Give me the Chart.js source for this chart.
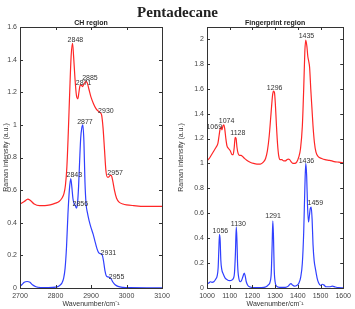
<!DOCTYPE html>
<html>
<head>
<meta charset="utf-8">
<script src="https://cdn.jsdelivr.net/npm/chart.js@4.4.1/dist/chart.umd.min.js"></script>
<style>
  html, body { margin: 0; padding: 0; background: #fff; }
  #wrap { position: relative; width: 355px; height: 309px; overflow: hidden; }
  #title { position: absolute; left: 0; top: 0; width: 355px; text-align: center;
           font: bold 15px "Liberation Serif", "DejaVu Serif", serif; line-height: 24px; color: #222; z-index: 2; }
  .box { position: absolute; top: 0; height: 309px; }
  #b1 { left: 0; width: 175px; }
  #b2 { left: 175px; width: 180px; }
</style>
</head>
<body>
<div id="wrap">
  <div id="title">Pentadecane</div>
  <div class="box" id="b1"><canvas id="c1"></canvas></div>
  <div class="box" id="b2"><canvas id="c2"></canvas></div>
</div>
<script>
// ---------- CH region data ----------
const chRedX = [2700,2712,2722,2730,2740,2755,2770,2785,2800,2810,2818,2824,2828,2832,2836,2840,2844,2848,2851,2855,2859,2863,2866,2869,2872,2876,2880,2885,2889,2894,2900,2907,2914,2920,2926,2930,2934,2938,2942,2946,2950,2954,2957,2961,2966,2972,2980,2990,3000,3020,3050,3100];
const chRedY = [0.515,0.53,0.545,0.535,0.515,0.505,0.505,0.51,0.52,0.53,0.55,0.58,0.63,0.74,0.95,1.2,1.42,1.5,1.42,1.28,1.18,1.16,1.2,1.24,1.245,1.235,1.25,1.265,1.26,1.22,1.17,1.13,1.1,1.085,1.075,1.06,0.98,0.85,0.72,0.68,0.68,0.69,0.69,0.66,0.6,0.55,0.525,0.515,0.51,0.505,0.5,0.5];
const chBlueX = [2700,2705,2712,2720,2728,2735,2745,2760,2780,2800,2810,2818,2823,2827,2831,2835,2839,2843,2846,2849,2852,2856,2859,2862,2865,2868,2871,2874,2877,2880,2883,2886,2890,2895,2900,2906,2912,2917,2922,2927,2931,2935,2939,2943,2948,2953,2957,2962,2968,2976,2990,3010,3100];
const chBlueY = [0.01,0.02,0.035,0.04,0.035,0.02,0.008,0.003,0.002,0.005,0.012,0.03,0.06,0.12,0.25,0.45,0.6,0.67,0.62,0.55,0.52,0.505,0.49,0.52,0.62,0.78,0.92,0.98,1.0,0.9,0.65,0.52,0.46,0.41,0.37,0.33,0.28,0.24,0.215,0.21,0.205,0.17,0.11,0.075,0.068,0.065,0.055,0.035,0.02,0.01,0.004,0.002,0.001];
const chXTicks = [2700,2800,2900,3000,3100];
const chYTicks = [0,0.2,0.4,0.6,0.8,1,1.2,1.4,1.6];
const chLabelText = ['2848','2871','2885','2930','2957','2877','2843','2856','2931','2955'];
const chLabelX = [2856,2879,2897,2942,2968,2883,2853,2870,2949,2972];
const chLabelY = [1.52,1.255,1.29,1.087,0.705,1.016,0.69,0.513,0.216,0.07];

// ---------- Fingerprint region data ----------
const fpRedX = [1000,1010,1020,1030,1040,1048,1053,1058,1062,1066,1070,1074,1078,1083,1088,1095,1103,1110,1115,1120,1124,1128,1132,1137,1143,1150,1157,1165,1175,1190,1205,1220,1235,1248,1258,1266,1274,1282,1289,1293,1297,1301,1306,1311,1316,1322,1330,1338,1345,1352,1358,1364,1370,1378,1386,1395,1404,1412,1420,1426,1431,1435,1440,1444,1448,1452,1457,1462,1467,1473,1480,1490,1505,1520,1540,1560,1580,1600];
const fpRedY = [1.02,1.04,1.07,1.1,1.13,1.16,1.22,1.28,1.29,1.27,1.3,1.31,1.28,1.2,1.14,1.12,1.1,1.07,1.07,1.13,1.21,1.2,1.13,1.08,1.065,1.065,1.055,1.04,1.025,1.01,1.0,0.995,0.995,1.01,1.04,1.1,1.22,1.4,1.55,1.58,1.57,1.48,1.3,1.15,1.06,1.03,1.03,1.02,1.02,1.03,1.035,1.03,1.015,1.0,1.0,1.01,1.05,1.12,1.3,1.6,1.9,1.99,1.94,1.86,1.82,1.77,1.6,1.45,1.3,1.17,1.09,1.055,1.04,1.03,1.025,1.015,1.01,1.005];
const fpBlueX = [1000,1008,1015,1022,1030,1038,1045,1049,1052,1055,1058,1061,1065,1072,1080,1090,1100,1110,1117,1121,1125,1129,1132,1135,1140,1146,1152,1158,1164,1168,1173,1180,1190,1210,1240,1260,1270,1278,1283,1287,1290,1293,1296,1300,1306,1320,1345,1358,1365,1370,1376,1385,1395,1405,1413,1420,1426,1431,1435,1439,1443,1447,1451,1455,1459,1463,1467,1472,1478,1485,1492,1500,1508,1514,1525,1540,1552,1565,1580,1600];
const fpBlueY = [0.03,0.04,0.05,0.045,0.05,0.07,0.1,0.16,0.3,0.43,0.38,0.22,0.15,0.11,0.08,0.065,0.06,0.065,0.08,0.12,0.27,0.49,0.38,0.18,0.08,0.05,0.06,0.09,0.12,0.1,0.05,0.02,0.008,0.003,0.003,0.01,0.025,0.05,0.12,0.35,0.54,0.4,0.15,0.05,0.015,0.005,0.005,0.015,0.03,0.035,0.025,0.015,0.02,0.04,0.09,0.2,0.45,0.8,1.0,0.9,0.65,0.53,0.58,0.64,0.65,0.55,0.35,0.22,0.15,0.08,0.04,0.02,0.03,0.025,0.01,0.01,0.015,0.008,0.003,0.002];
const fpXTicks = [1000,1100,1200,1300,1400,1500,1600];
const fpYTicks = [0,0.2,0.4,0.6,0.8,1,1.2,1.4,1.6,1.8,2];
const fpLabelText = ['1069','1074','1128','1296','1435','1436','1459','1291','1130','1056'];
const fpLabelX = [1032,1086,1136,1298,1438,1438,1477,1291,1138,1059];
const fpLabelY = [1.294,1.343,1.24,1.607,2.02,1.02,0.68,0.575,0.51,0.46];

const RED = '#ff2626';
const BLUE = '#3040ff';
const FONT = '"Liberation Sans", Arial, sans-serif';

function pts(xs, ys) { return xs.map((x, i) => ({ x: x, y: ys[i] })); }

const framePlugin = {
  id: 'frame',
  afterDatasetsDraw(chart, args, opts) {
    const { ctx, chartArea: a, scales } = chart;
    ctx.save();
    ctx.strokeStyle = '#333';
    ctx.lineWidth = 1;
    const L = 3;
    ctx.beginPath();
    scales.x.ticks.forEach(t => {
      const px = Math.round(scales.x.getPixelForValue(t.value)) + 0.5;
      ctx.moveTo(px, a.bottom); ctx.lineTo(px, a.bottom - L);
      ctx.moveTo(px, a.top); ctx.lineTo(px, a.top + L);
    });
    scales.y.ticks.forEach(t => {
      const py = Math.round(scales.y.getPixelForValue(t.value)) + 0.5;
      ctx.moveTo(a.left, py); ctx.lineTo(a.left + L, py);
      ctx.moveTo(a.right, py); ctx.lineTo(a.right - L, py);
    });
    ctx.stroke();
    ctx.strokeRect(Math.round(a.left) + 0.5, Math.round(a.top) + 0.5,
                   Math.round(a.right - a.left), Math.round(a.bottom - a.top));
    // peak labels
    ctx.fillStyle = '#333';
    ctx.font = '7px ' + FONT;
    ctx.textAlign = 'center';
    ctx.textBaseline = 'middle';
    opts.text.forEach((t, i) => {
      ctx.fillText(t, scales.x.getPixelForValue(opts.xs[i]), scales.y.getPixelForValue(opts.ys[i]));
    });
    // subplot title
    ctx.font = 'bold 7px ' + FONT;
    ctx.fillStyle = '#222';
    ctx.textBaseline = 'alphabetic';
    ctx.fillText(opts.title, (a.left + a.right) / 2, a.top - 2);
    ctx.restore();
  }
};

function makeChart(id, cfg) {
  return new Chart(document.getElementById(id), {
    type: 'line',
    data: {
      datasets: [
        { data: pts(cfg.rx, cfg.ry), borderColor: RED, borderWidth: 1.2, pointRadius: 0, cubicInterpolationMode: 'monotone', fill: false },
        { data: pts(cfg.bx, cfg.by), borderColor: BLUE, borderWidth: 1.2, pointRadius: 0, cubicInterpolationMode: 'monotone', fill: false }
      ]
    },
    options: {
      responsive: true,
      maintainAspectRatio: false,
      animation: false,
      devicePixelRatio: 1,
      layout: { padding: { left: 0, right: cfg.padRight, top: 27, bottom: 0 } },
      plugins: {
        legend: { display: false },
        tooltip: { enabled: false },
        title: { display: false },
        frame: { text: cfg.lt, xs: cfg.lx, ys: cfg.ly, title: cfg.title }
      },
      scales: {
        x: {
          type: 'linear', min: cfg.xmin, max: cfg.xmax,
          grid: { display: false, drawTicks: false },
          border: { display: false },
          afterBuildTicks: s => { s.ticks = cfg.xt.map(v => ({ value: v })); },
          afterFit: s => { s.height = 21; },
          ticks: { padding: 4, color: '#444', font: { size: 7, family: FONT }, maxRotation: 0, callback: v => String(v) },
          title: { display: true, text: 'Wavenumber/cm\u207B\u00B9', color: '#333', font: { size: 7, family: FONT }, padding: { top: 0, bottom: 1 } }
        },
        y: {
          type: 'linear', min: 0, max: cfg.ymax,
          grid: { display: false, drawTicks: false },
          border: { display: false },
          afterBuildTicks: s => { s.ticks = cfg.yt.map(v => ({ value: v })); },
          afterFit: s => { s.width = cfg.yw; },
          ticks: { padding: 3, color: '#444', font: { size: 7, family: FONT }, callback: v => String(Math.round(v * 10) / 10) },
          title: { display: true, text: 'Raman intensity (a.u.)', color: '#333', font: { size: 7, family: FONT }, padding: { top: 2, bottom: 0 } }
        }
      }
    },
    plugins: [framePlugin]
  });
}

makeChart('c1', {
  rx: chRedX, ry: chRedY, bx: chBlueX, by: chBlueY,
  xmin: 2700, xmax: 3100, ymax: 1.6, xt: chXTicks, yt: chYTicks,
  lt: chLabelText, lx: chLabelX, ly: chLabelY, title: 'CH region',
  padRight: 13, yw: 20
});
makeChart('c2', {
  rx: fpRedX, ry: fpRedY, bx: fpBlueX, by: fpBlueY,
  xmin: 1000, xmax: 1600, ymax: 2.095, xt: fpXTicks, yt: fpYTicks,
  lt: fpLabelText, lx: fpLabelX, ly: fpLabelY, title: 'Fingerprint region',
  padRight: 8, yw: 32
});
</script>
</body>
</html>
